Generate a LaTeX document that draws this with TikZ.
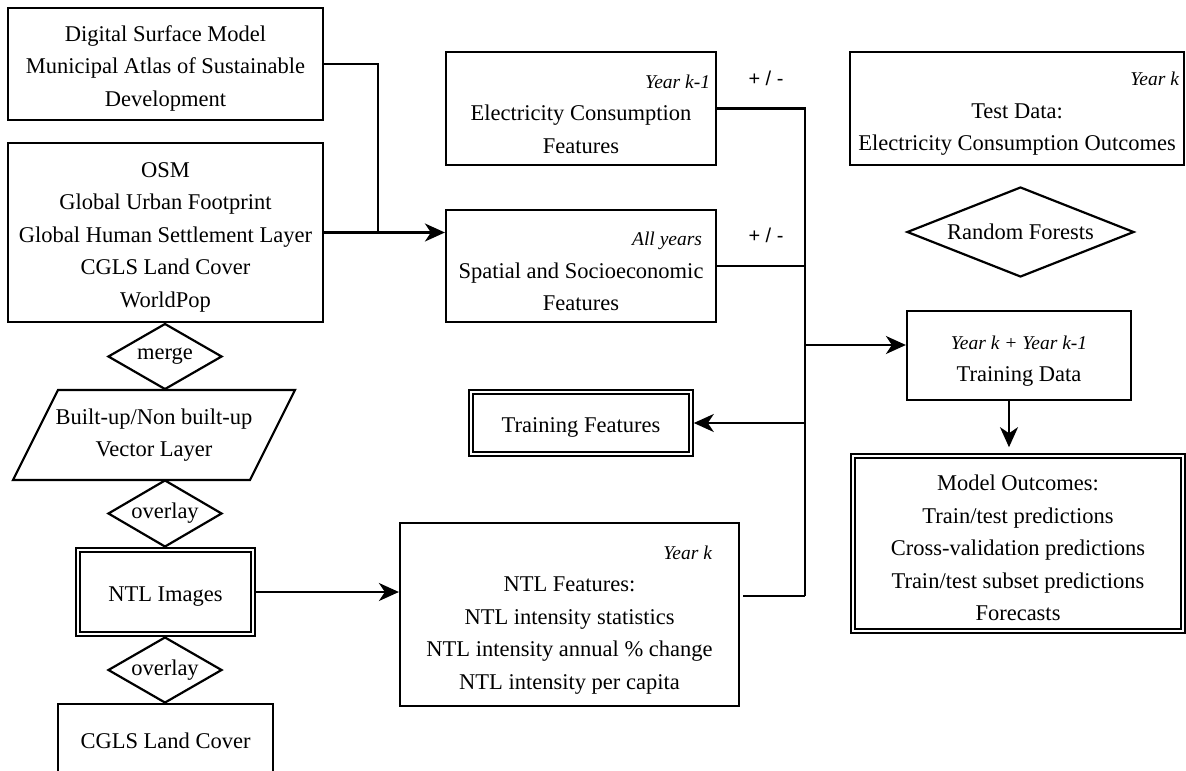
\documentclass[tikz,border=0pt]{standalone}
\usepackage{fontspec}
\setmainfont{Liberation Serif}
\newfontfamily\pmfont{Liberation Sans}
\usetikzlibrary{shapes.geometric, arrows.meta}

% italic year tags, plain and pushed to the right edge of the text block
\newcommand{\yr}[1]{{\fontsize{19.5}{32.5}\selectfont\itshape #1}}
\newcommand{\yrright}[2][0pt]{\makebox[\hsize][r]{\yr{#2}\hspace*{#1}}}

\begin{document}
\begin{tikzpicture}[
    x = 1pt, y = -1pt,
    > = {Stealth[length=20pt, width=18pt, inset=6pt]},
    line width = 2.2pt,
    font = \fontsize{22.5}{32.5}\selectfont,
    plainbox/.style={draw, rectangle, align=flush center, inner sep=0pt},
    box/.style={plainbox, execute at begin node={\rule{0pt}{24.5pt}}},
    dbox/.style={box, double, line width=1.5pt, double distance=2.6pt, outer sep=2.8pt},
    decision/.style={draw, diamond, aspect=1.7, inner sep=0pt},
    pm/.style={font=\pmfont\fontsize{20}{24}\selectfont}
]
\useasboundingbox (0,0) rectangle (1186,771);

% --- Data sources and preprocessing ---
\node[box, minimum width=315pt, minimum height=112pt, text width=315pt] (dsm) at (165.5,64) {Digital Surface Model\\Municipal Atlas of Sustainable\\Development};
\node[box, minimum width=315pt, minimum height=179pt, text width=315pt] (osm) at (165.5,232.5) {OSM\\Global Urban Footprint\\Global Human Settlement Layer\\CGLS Land Cover\\WorldPop};
\node[decision, minimum width=114pt, minimum height=66pt] (merge) at (165,356.5) {merge};
\node[align=center, inner sep=0pt] (vector) at (154,435) {Built-up/Non built-up\\Vector Layer};
\draw (vector.center) ++(-141,45) -- ++(45,-90) -- ++(237,0) -- ++(-45,90) -- cycle;
\node[decision, minimum width=114pt, minimum height=67pt] (overlayA) at (165,513.5) {overlay};
\node[dbox, minimum width=175pt, minimum height=84pt] (ntlimg) at (165.5,592) {NTL Images};
\node[decision, minimum width=114pt, minimum height=66pt] (overlayB) at (165,670) {overlay};
\node[plainbox, minimum width=215pt, minimum height=74pt] (cgls) at (165.5,741) {CGLS Land Cover};

% --- Features ---
\node[box, minimum width=270pt, minimum height=113pt, text width=258pt] (elec) at (581,108.5) {\yrright{Year k-1}\\Electricity Consumption\\Features};
\node[box, minimum width=270pt, minimum height=112pt, text width=258pt] (spatial) at (581,266) {\yrright[8pt]{All years}\\Spatial and Socioeconomic\\Features};
\node[dbox, minimum width=220pt, minimum height=62pt] (trainfeat) at (581,423) {Training Features};
\node[box, minimum width=339pt, minimum height=183pt, text width=300pt] (ntlfeat) at (569.5,614.5) {\yrright[7.5pt]{Year k}\\NTL Features:\\NTL intensity statistics\\NTL intensity annual \% change\\NTL intensity per capita};
\node[pm] (pmA) at (766,78) {+ / -};
\node[pm] (pmB) at (766,235) {+ / -};

% --- Model ---
\node[box, minimum width=334pt, minimum height=113pt, text width=324pt] (testdata) at (1017,108.5) {\yrright{Year k}\\Test Data:\\Electricity Consumption Outcomes};
\node[decision, aspect=2.5, minimum width=227pt, minimum height=90pt] (forest) at (1020.5,232) {Random Forests};
\node[box, minimum width=224pt, minimum height=89pt, text width=224pt] (traindata) at (1019,355.5) {\yr{Year k + Year k-1}\\Training Data};
\node[dbox, minimum width=330pt, minimum height=175pt, text width=330pt] (modelout) at (1018,543.5) {Model Outcomes:\\Train/test predictions\\Cross-validation predictions\\Train/test subset predictions\\Forecasts};

% bus points
\coordinate (dsmjoin) at (378,233);
\coordinate (busbot) at (805,596);
\coordinate (bustap) at (805,345);

% connectors
\draw (dsm.east) -| (dsmjoin);
\draw[->] (osm.east) -- (spatial.west |- osm.east);
\draw[->] (ntlimg.east) -- (ntlfeat.west |- ntlimg.east);
\draw (elec.east) -| (busbot);
\draw (spatial.east) -- (spatial.east -| busbot);
\draw ([xshift=3pt]ntlfeat.east |- busbot) -- (busbot);
\draw[->] (bustap) -- (traindata.west |- bustap);
\draw[->] (trainfeat.east -| busbot) -- (trainfeat.east);
\draw[->, shorten >=6pt] ([xshift=-10pt]traindata.south) -- ([xshift=-10pt]traindata.south |- modelout.north);

\end{tikzpicture}
\end{document}
